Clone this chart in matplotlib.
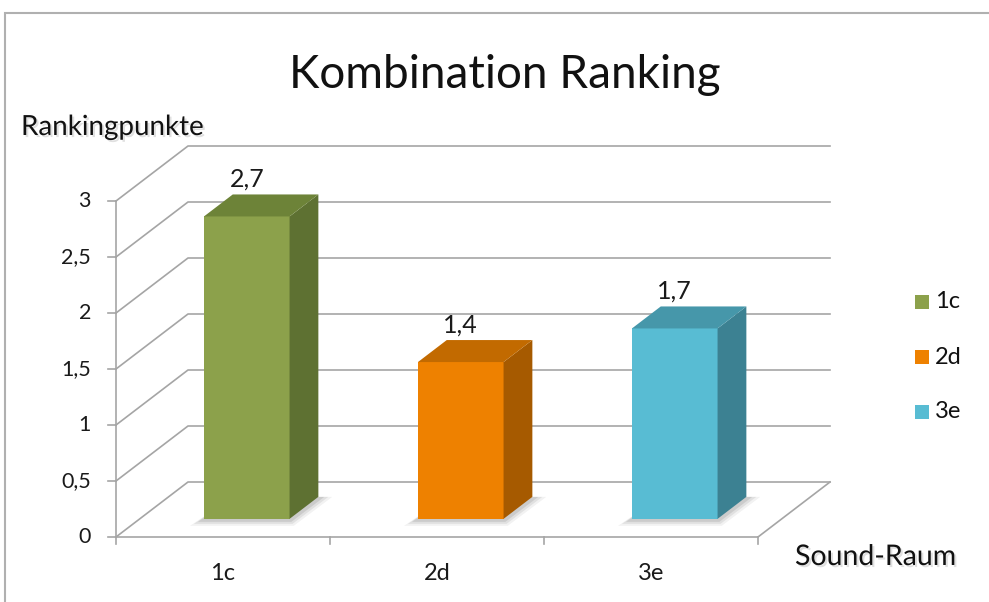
import matplotlib.pyplot as plt
import matplotlib.patheffects as pe
from matplotlib.patches import Polygon, Rectangle

plt.rcParams['font.family'] = ['Lato', 'DejaVu Sans']

categories = ['1c', '2d', '3e']
values = [2.7, 1.4, 1.7]
value_labels = ['2,7', '1,4', '1,7']
y_ticks = [0, 0.5, 1, 1.5, 2, 2.5, 3]
y_tick_labels = ['0', '0,5', '1', '1,5', '2', '2,5', '3']

front_col = ['#8ca14b', '#ee8100', '#58bcd3']
side_col = ['#5e7132', '#a65a00', '#3c8192']
top_col = ['#6d8338', '#c26a00', '#4697aa']

W, H = 989, 602
fig = plt.figure(figsize=(W / 100, H / 100), dpi=100)
ax = fig.add_axes([0, 0, 1, 1])
# data coords: x = category index, y = value; front plane maps to pixels 116..758 / 537..201
px_per_cat = 214.0
px_per_val = 112.0
x0_px, y0_px = 116, 537
ax.set_xlim(-0.5 - x0_px / px_per_cat, -0.5 + (W - x0_px) / px_per_cat)
ax.set_ylim(-(H - y0_px) / px_per_val, y0_px / px_per_val)
ax.axis('off')

DX = 72 / px_per_cat   # depth offset of the floor
DY = 55 / px_per_val
f0, f1 = 0.33, 0.73     # bar front/back depth fraction
hw = 0.2
grid_c = '#a5a5a5'
lw = 1.2
n = len(categories)
xl, xr = -0.5, n - 0.5
shadow = [pe.SimplePatchShadow(offset=(1.5, -1.5), shadow_rgbFace='#000000', alpha=0.12), pe.Normal()]

# back wall + left wall gridlines
for v, lab in zip(y_ticks, y_tick_labels):
    ax.plot([xl, xl + DX, xr + DX], [v, v + DY, v + DY], color=grid_c, lw=lw, zorder=1)
    ax.plot([xl - 8 / px_per_cat, xl], [v, v], color=grid_c, lw=lw, zorder=1)
    ax.text(xl - 25 / px_per_cat, v, lab, ha='right', va='center', fontsize=15.5, color='#1a1a1a')
# front axis, floor edge, y axis
ax.plot([xl, xr, xr + DX], [0, 0, DY], color=grid_c, lw=lw, zorder=1)
ax.plot([xl, xl], [0, 3], color=grid_c, lw=lw, zorder=1)
for k in range(n + 1):
    ax.plot([xl + k, xl + k], [0, -7 / px_per_val], color=grid_c, lw=lw, zorder=1)
for i, c in enumerate(categories):
    ax.text(i, -37 / px_per_val, c, ha='center', va='center', fontsize=17, color='#1a1a1a')

# bars
for i, v in enumerate(values):
    ox, oy = f0 * DX, f0 * DY
    bx, by = (f1 - f0) * DX, (f1 - f0) * DY
    L, R = i - hw + ox, i + hw + ox
    B, T = oy, v + oy
    # soft shadow on the floor
    for s, a in [(14, 0.05), (10, 0.07), (6, 0.09)]:
        sx, sy = s / px_per_cat, s / px_per_val * 0.5
        ax.add_patch(Polygon([(L - sx, B - sy), (R + sx * 0.3, B - sy), (R + bx + sx, B + by),
                              (L + bx, B + by)], closed=True, fc='#000000', ec='none', alpha=a, zorder=2))
    ax.add_patch(Polygon([(L, B), (R, B), (R, T), (L, T)], closed=True,
                         fc=front_col[i], ec='none', zorder=3))
    ax.add_patch(Polygon([(R, B), (R + bx, B + by), (R + bx, T + by), (R, T)], closed=True,
                         fc=side_col[i], ec='none', zorder=3))
    ax.add_patch(Polygon([(L, T), (R, T), (R + bx, T + by), (L + bx, T + by)], closed=True,
                         fc=top_col[i], ec='none', zorder=3))
    ax.text(i + ox, T + by + 15 / px_per_val, value_labels[i], ha='center', va='center',
            fontsize=18, color='#1a1a1a')

# chart border
fig.patches.append(Rectangle((5 / W, -0.1), 1.2, 1.1 - 13 / H, transform=fig.transFigure,
                             fill=False, ec='#b0b0b0', lw=1.5))

fig.text(505 / W, 1 - 75 / H, 'Kombination Ranking', ha='center', va='center', fontsize=33,
         color='#111111')
fig.text(21 / W, 1 - 127 / H, 'Rankingpunkte', ha='left', va='center', fontsize=20, color='#111111',
         path_effects=shadow)
fig.text(795 / W, 1 - 557 / H, 'Sound-Raum', ha='left', va='center', fontsize=20.5, color='#111111',
         path_effects=shadow)

# legend
leg_y = [302, 357, 412]
for i, c in enumerate(categories):
    fig.patches.append(Rectangle((915 / W, 1 - (leg_y[i] + 7) / H), 14 / W, 14 / H,
                                 transform=fig.transFigure, fc=front_col[i], ec='none'))
    fig.text(935 / W, 1 - leg_y[i] / H, c, ha='left', va='center', fontsize=17, color='#111111')

fig.savefig('out.png', dpi=100)
